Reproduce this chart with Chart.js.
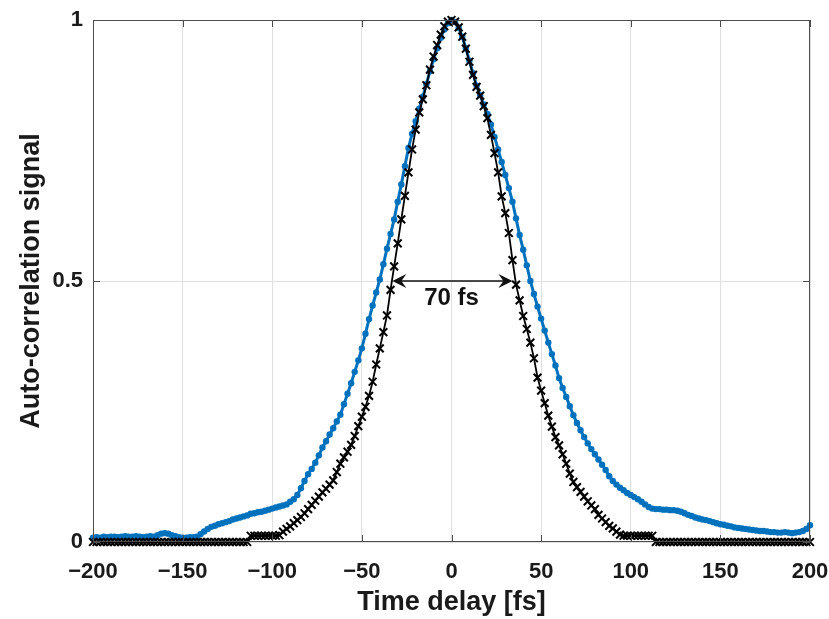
<!DOCTYPE html>
<html>
<head>
<meta charset="utf-8">
<script src="https://cdn.jsdelivr.net/npm/chart.js@4"></script>
<style>
  body { margin: 0; background: #fff; }
  canvas { display: block; }
</style>
</head>
<body>
<canvas id="acf" width="829" height="619"></canvas>
<script>
// time delay samples [fs]
var delays = [
  -200,-198,-196,-194,-192,-190,-188,-186,-184,-182,
  -180,-178,-176,-174,-172,-170,-168,-166,-164,-162,
  -160,-158,-156,-154,-152,-150,-148,-146,-144,-142,
  -140,-138,-136,-134,-132,-130,-128,-126,-124,-122,
  -120,-118,-116,-114,-112,-110,-108,-106,-104,-102,
  -100,-98,-96,-94,-92,-90,-88,-86,-84,-82,
  -80,-78,-76,-74,-72,-70,-68,-66,-64,-62,
  -60,-58,-56,-54,-52,-50,-48,-46,-44,-42,
  -40,-38,-36,-34,-32,-30,-28,-26,-24,-22,
  -20,-18,-16,-14,-12,-10,-8,-6,-4,-2,
  0,2,4,6,8,10,12,14,16,18,
  20,22,24,26,28,30,32,34,36,38,
  40,42,44,46,48,50,52,54,56,58,
  60,62,64,66,68,70,72,74,76,78,
  80,82,84,86,88,90,92,94,96,98,
  100,102,104,106,108,110,112,114,116,118,
  120,122,124,126,128,130,132,134,136,138,
  140,142,144,146,148,150,152,154,156,158,
  160,162,164,166,168,170,172,174,176,178,
  180,182,184,186,188,190,192,194,196,198,
  200
];

// measured autocorrelation (blue dots)
var measured = [
  0.008,0.009,0.008,0.010,0.009,0.010,0.010,0.009,0.010,0.011,
  0.010,0.010,0.011,0.010,0.009,0.010,0.011,0.010,0.013,0.016,
  0.017,0.016,0.013,0.011,0.009,0.008,0.008,0.009,0.009,0.010,
  0.015,0.020,0.025,0.029,0.031,0.034,0.036,0.038,0.040,0.043,
  0.045,0.047,0.049,0.051,0.054,0.055,0.057,0.058,0.060,0.062,
  0.064,0.066,0.068,0.070,0.072,0.077,0.082,0.090,0.103,0.117,
  0.130,0.140,0.152,0.166,0.181,0.193,0.206,0.218,0.231,0.244,
  0.264,0.284,0.304,0.326,0.348,0.371,0.399,0.427,0.453,0.478,
  0.503,0.532,0.562,0.590,0.618,0.652,0.685,0.720,0.755,0.782,
  0.806,0.830,0.853,0.877,0.902,0.925,0.946,0.966,0.982,0.994,
  1.000,0.996,0.985,0.968,0.946,0.922,0.898,0.874,0.856,0.838,
  0.820,0.800,0.776,0.752,0.728,0.703,0.678,0.652,0.620,0.588,
  0.560,0.530,0.500,0.475,0.451,0.428,0.405,0.382,0.360,0.338,
  0.314,0.295,0.278,0.260,0.243,0.228,0.214,0.201,0.189,0.178,
  0.168,0.158,0.148,0.138,0.126,0.117,0.110,0.104,0.099,0.094,
  0.090,0.086,0.082,0.077,0.072,0.067,0.064,0.063,0.063,0.062,
  0.062,0.061,0.061,0.060,0.058,0.055,0.052,0.050,0.047,0.045,
  0.043,0.042,0.040,0.038,0.036,0.034,0.033,0.031,0.030,0.028,
  0.027,0.026,0.025,0.024,0.023,0.022,0.021,0.021,0.020,0.019,
  0.019,0.018,0.018,0.019,0.018,0.017,0.018,0.019,0.021,0.025,
  0.032
];

// second trace (black crosses)
var reference = [
  0,0,0,0,0,0,0,0,0,0,
  0,0,0,0,0,0,0,0,0,0,
  0,0,0,0,0,0,0,0,0,0,
  0,0,0,0,0,0,0,0,0,0,
  0,0,0,0,0.012,0.012,0.012,0.012,0.012,0.012,
  0.012,0.012,0.013,0.020,0.025,0.030,0.036,0.042,0.048,0.055,
  0.063,0.071,0.079,0.087,0.095,0.102,0.110,0.118,0.134,0.150,
  0.162,0.173,0.186,0.203,0.222,0.240,0.259,0.280,0.307,0.340,
  0.371,0.402,0.434,0.483,0.528,0.572,0.618,0.663,0.708,0.752,
  0.790,0.823,0.848,0.875,0.905,0.930,0.952,0.972,0.988,0.997,
  1.000,0.997,0.986,0.968,0.945,0.920,0.895,0.872,0.855,0.835,
  0.812,0.780,0.745,0.708,0.662,0.630,0.592,0.540,0.493,0.463,
  0.433,0.408,0.382,0.352,0.315,0.290,0.266,0.242,0.221,0.201,
  0.185,0.168,0.150,0.131,0.115,0.105,0.096,0.087,0.078,0.070,
  0.063,0.052,0.045,0.038,0.031,0.026,0.020,0.014,0.012,0.012,
  0.012,0.012,0.012,0.012,0.012,0.012,0.012,0,0,0,
  0,0,0,0,0,0,0,0,0,0,
  0,0,0,0,0,0,0,0,0,0,
  0,0,0,0,0,0,0,0,0,0,
  0,0,0,0,0,0,0,0,0,0,
  0
];

var xTicks = [-200, -150, -100, -50, 0, 50, 100, 150, 200];
var yTicks = [0, 0.5, 1];

// FWHM marker
var fwhmFrom = -33;
var fwhmTo = 34;
var fwhmLevel = 0.5;
var fwhmText = '70 fs';

function toPoints(xs, ys) {
  return xs.map(function (x, i) { return { x: x, y: ys[i] }; });
}

var axisColor = '#4d4d4d';
var gridColor = '#e0e0e0';
var fontFamily = '"Liberation Sans", Arial, sans-serif';

var extras = {
  id: 'extras',
  afterDatasetsDraw: function (chart) {
    var c = chart.ctx, xs = chart.scales.x, ys = chart.scales.y;
    var x1 = xs.getPixelForValue(fwhmFrom), x2 = xs.getPixelForValue(fwhmTo);
    var y = ys.getPixelForValue(fwhmLevel);
    c.save();
    c.strokeStyle = '#111';
    c.fillStyle = '#111';
    c.lineWidth = 1.5;
    c.beginPath();
    c.moveTo(x1 + 4, y);
    c.lineTo(x2 - 4, y);
    c.stroke();
    function head(tx, dir) {
      c.beginPath();
      c.moveTo(tx, y);
      c.lineTo(tx + dir * 14, y - 7);
      c.lineTo(tx + dir * 9, y);
      c.lineTo(tx + dir * 14, y + 7);
      c.closePath();
      c.fill();
    }
    head(x1, 1);
    head(x2, -1);
    c.font = 'bold 24px ' + fontFamily;
    c.textAlign = 'center';
    c.textBaseline = 'middle';
    c.fillText(fwhmText, xs.getPixelForValue(0), ys.getPixelForValue(0.466));
    c.restore();
  },
  afterDraw: function (chart) {
    var c = chart.ctx, a = chart.chartArea, xs = chart.scales.x, ys = chart.scales.y;
    c.save();
    c.strokeStyle = axisColor;
    c.lineWidth = 1;
    c.strokeRect(a.left + 0.5, a.top + 0.5, a.right - a.left - 1, a.bottom - a.top - 1);
    c.beginPath();
    xTicks.forEach(function (t) {
      var px = Math.round(xs.getPixelForValue(t)) + 0.5;
      c.moveTo(px, a.bottom); c.lineTo(px, a.bottom - 7);
      c.moveTo(px, a.top); c.lineTo(px, a.top + 7);
    });
    yTicks.forEach(function (t) {
      var py = Math.round(ys.getPixelForValue(t)) + 0.5;
      c.moveTo(a.left, py); c.lineTo(a.left + 7, py);
      c.moveTo(a.right, py); c.lineTo(a.right - 7, py);
    });
    c.stroke();
    c.restore();
  }
};

var ctx = document.getElementById('acf').getContext('2d');
var chart = new Chart(ctx, {
  type: 'line',
  data: {
    datasets: [{
      label: 'Second trace',
      data: toPoints(delays, reference),
      borderColor: '#000',
      backgroundColor: '#000',
      borderWidth: 1.8,
      pointStyle: 'crossRot',
      pointRadius: 5.5,
      pointBorderWidth: 2,
      pointBorderColor: '#000',
      tension: 0,
      clip: false,
      order: 0
    }, {
      label: 'Measured',
      data: toPoints(delays, measured),
      borderColor: '#0072BD',
      backgroundColor: '#0072BD',
      borderWidth: 3,
      pointStyle: 'circle',
      pointRadius: 3.2,
      pointBorderWidth: 0,
      pointBackgroundColor: '#0072BD',
      tension: 0,
      clip: false,
      order: 1
    }]
  },
  options: {
    responsive: false,
    animation: false,
    layout: { padding: { top: 20, right: 19, left: 0, bottom: 0 } },
    plugins: { legend: { display: false }, tooltip: { enabled: false } },
    scales: {
      x: {
        type: 'linear',
        min: -200,
        max: 200,
        afterFit: function (s) { s.height = 77; s.paddingLeft = 0; s.paddingRight = 0; },
        afterBuildTicks: function (s) { s.ticks = xTicks.map(function (v) { return { value: v }; }); },
        ticks: {
          padding: 17,
          color: '#1a1a1a',
          font: { family: fontFamily, size: 22, weight: 'bold' },
          callback: function (v) { return v < 0 ? '\u2212' + Math.abs(v) : String(v); }
        },
        grid: { color: gridColor, drawTicks: false },
        border: { display: false },
        title: {
          display: true,
          text: 'Time delay [fs]',
          color: '#1a1a1a',
          font: { family: fontFamily, size: 27, weight: 'bold' },
          padding: { top: 0, bottom: 0 }
        }
      },
      y: {
        min: 0,
        max: 1,
        afterFit: function (s) { s.width = 93; s.paddingTop = 0; s.paddingBottom = 0; },
        afterBuildTicks: function (s) { s.ticks = yTicks.map(function (v) { return { value: v }; }); },
        ticks: {
          padding: 10,
          color: '#1a1a1a',
          font: { family: fontFamily, size: 22, weight: 'bold' },
          callback: function (v) { return String(v); }
        },
        grid: { color: gridColor, drawTicks: false },
        border: { display: false },
        title: {
          display: true,
          text: 'Auto-correlation signal',
          color: '#1a1a1a',
          font: { family: fontFamily, size: 27, weight: 'bold' },
          padding: { top: 15, bottom: 0 }
        }
      }
    }
  },
  plugins: [extras]
});
</script>
</body>
</html>
